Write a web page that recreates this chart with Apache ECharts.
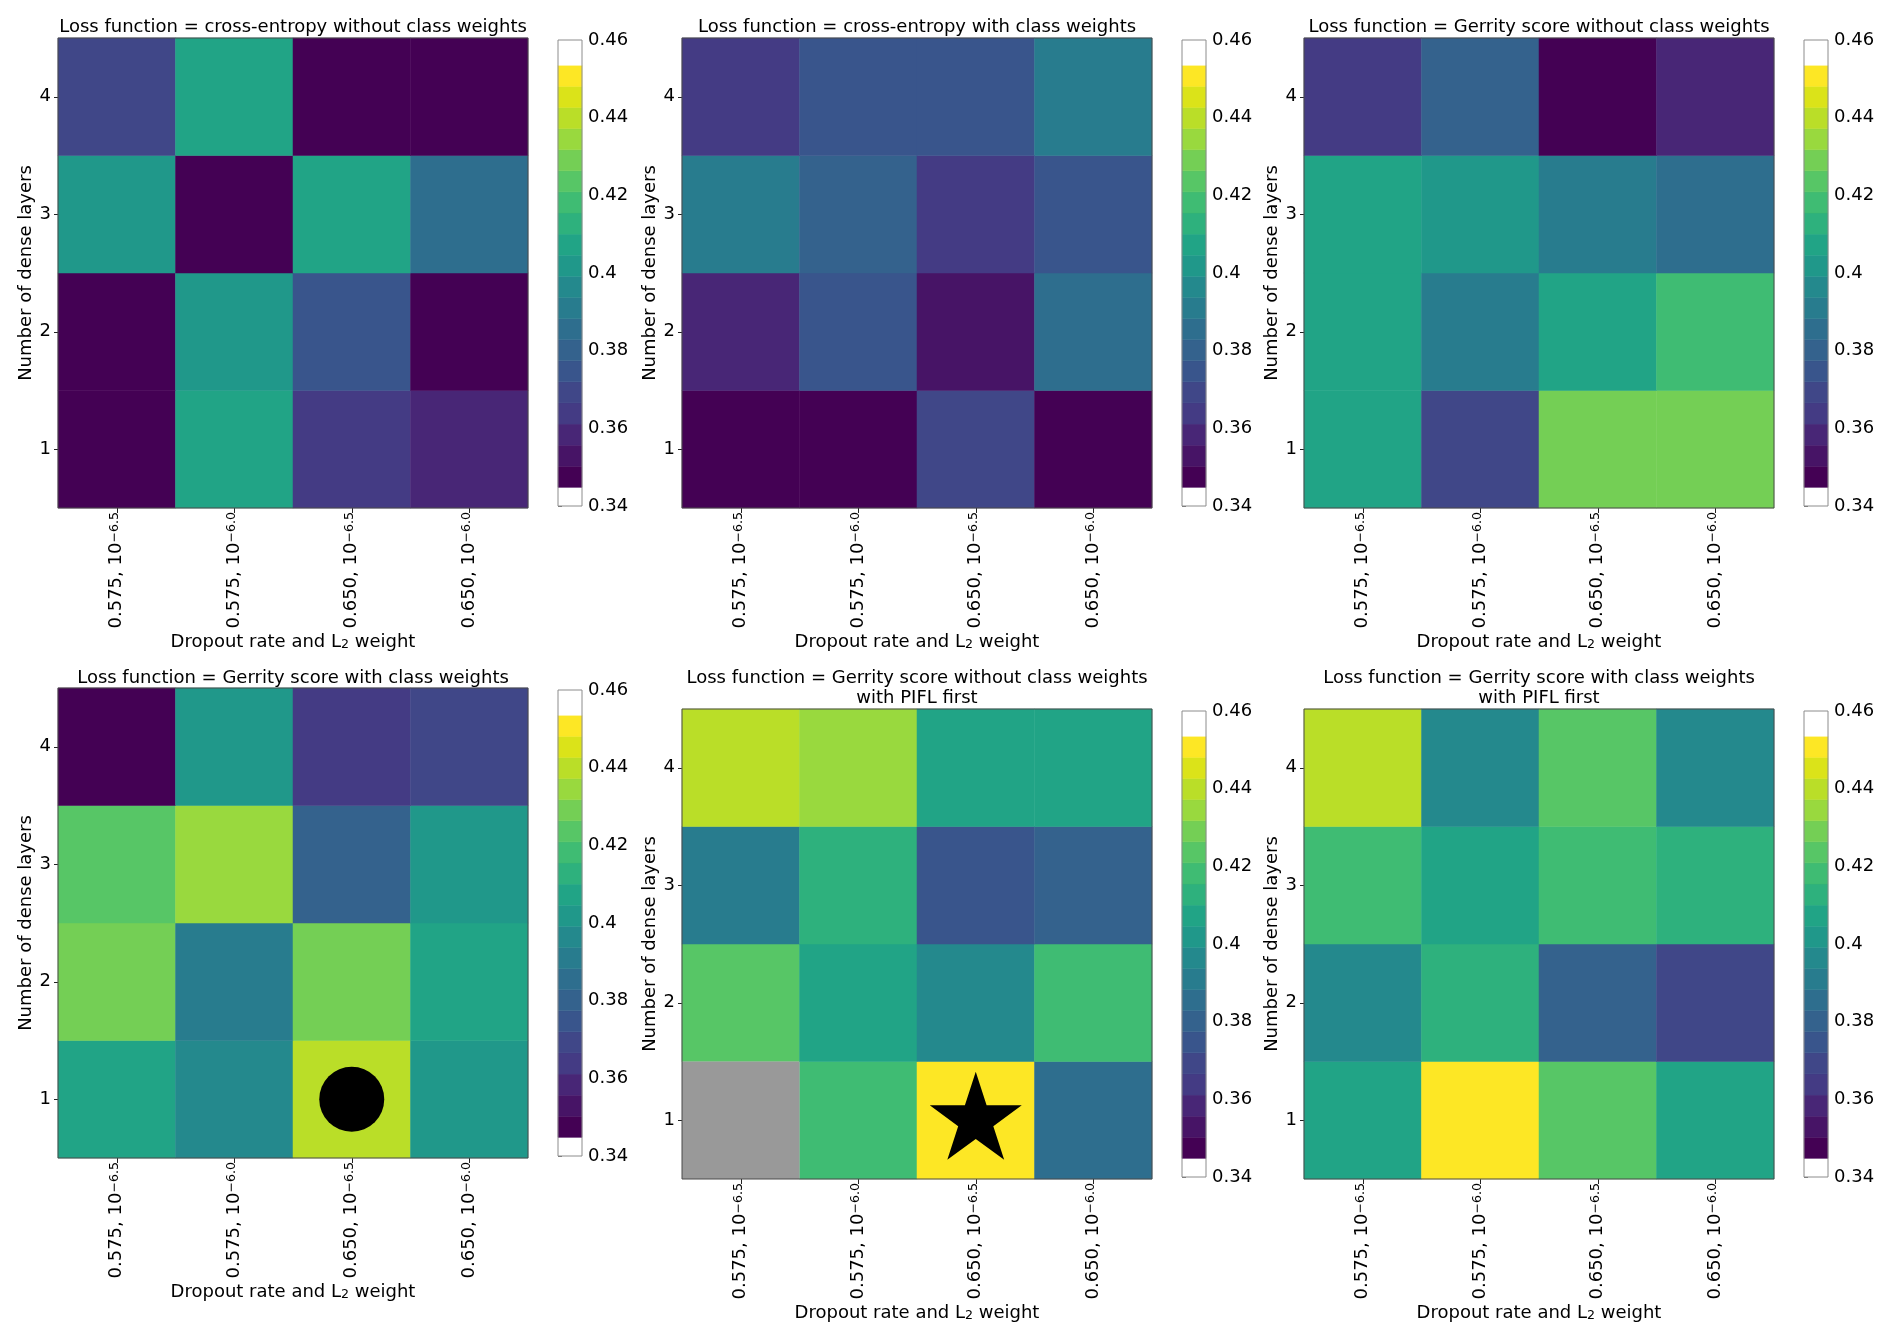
<!DOCTYPE html>
<html>
<head>
<meta charset="utf-8">
<title>Hyperparameter experiment</title>
<script src="https://cdn.jsdelivr.net/npm/echarts@6/dist/echarts.min.js"></script>
<style>
html, body { margin: 0; padding: 0; background: #fff; }
#main { width: 1892px; height: 1342px; }
</style>
</head>
<body>
<div id="main"></div>
<script>
// x categories: dropout rate and exponent of the L2 weight
var dropoutRates = ['0.575', '0.575', '0.650', '0.650'];
var l2Exponents = ['\u22126.5', '\u22126.0', '\u22126.5', '\u22126.0'];
// y categories: number of dense layers (1 at the bottom)
var denseLayers = ['1', '2', '3', '4'];
// colour bar ticks
var cbTicks = [0.34, 0.36, 0.38, 0.40, 0.42, 0.44, 0.46];

var panelTitles = [
	'Loss function = cross-entropy without class weights',
	'Loss function = cross-entropy with class weights',
	'Loss function = Gerrity score without class weights',
	'Loss function = Gerrity score with class weights',
	'Loss function = Gerrity score without class weights\nwith PIFL first',
	'Loss function = Gerrity score with class weights\nwith PIFL first'
];

// scores, one row per number of dense layers (1..4), columns follow the x categories
var ceNoWeights = [
	[0.347, 0.407, 0.362, 0.357],
	[0.346, 0.401, 0.375, 0.348],
	[0.402, 0.345, 0.408, 0.386],
	[0.369, 0.406, 0.347, 0.346]
];
var ceWithWeights = [
	[0.346, 0.347, 0.370, 0.345],
	[0.359, 0.374, 0.354, 0.385],
	[0.392, 0.381, 0.365, 0.376],
	[0.363, 0.375, 0.376, 0.391]
];
var gerrityNoWeights = [
	[0.407, 0.368, 0.430, 0.429],
	[0.406, 0.390, 0.408, 0.418],
	[0.407, 0.401, 0.392, 0.386],
	[0.365, 0.380, 0.346, 0.358]
];
var gerrityWithWeights = [
	[0.407, 0.396, 0.440, 0.401],
	[0.430, 0.391, 0.428, 0.407],
	[0.424, 0.435, 0.380, 0.402],
	[0.346, 0.401, 0.364, 0.369]
];
var piflNoWeights = [
	[null, 0.418, 0.451, 0.386],
	[0.424, 0.407, 0.396, 0.419],
	[0.391, 0.413, 0.374, 0.381],
	[0.440, 0.435, 0.407, 0.406]
];
var piflWithWeights = [
	[0.407, 0.452, 0.423, 0.406],
	[0.396, 0.413, 0.380, 0.369],
	[0.418, 0.407, 0.419, 0.413],
	[0.441, 0.396, 0.424, 0.397]
];
var panelScores = [ceNoWeights, ceWithWeights, gerrityNoWeights, gerrityWithWeights, piflNoWeights, piflWithWeights];

// best models: [column, row]
var circleCell = [2, 0]; // panel 4
var starCell = [2, 0];   // panel 5

// colour scale
var cbMin = 0.34, cbMax = 0.46;
var binLo = 0.3448, binHi = 0.4535, nBins = 20;

var FONT = 'DejaVu Sans';
var TEXT = '#000';

var viridisStops = ['#440154', '#471365', '#482475', '#443983', '#414487', '#3b528b', '#355f8d',
	'#31688e', '#2a788e', '#26828e', '#21918c', '#1f9e89', '#22a884', '#35b779', '#44bf70',
	'#5ec962', '#7ad151', '#9fda3a', '#bddf26', '#dde318', '#fde725'];

function hexRgb(h) {
	return [parseInt(h.substr(1, 2), 16), parseInt(h.substr(3, 2), 16), parseInt(h.substr(5, 2), 16)];
}
function viridis(t) {
	var pos = t * (viridisStops.length - 1);
	var i = Math.min(Math.floor(pos), viridisStops.length - 2);
	var f = pos - i;
	var a = hexRgb(viridisStops[i]), b = hexRgb(viridisStops[i + 1]);
	var c = [];
	for (var k = 0; k < 3; k++) c.push(Math.round(a[k] + (b[k] - a[k]) * f));
	return 'rgb(' + c.join(',') + ')';
}

var binEdges = [], binColors = [];
for (var i = 0; i <= nBins; i++) binEdges.push(binLo + i * (binHi - binLo) / nBins);
for (var i = 0; i < nBins; i++) binColors.push(viridis(i / (nBins - 1)));

var pieces = [];
for (var i = 0; i < nBins; i++) {
	var p = {color: binColors[i]};
	if (i > 0) p.gte = binEdges[i];
	if (i < nBins - 1) p.lt = binEdges[i + 1];
	pieces.push(p);
}

// colour bar segments: under, bins, over
var cbSegments = [[cbMin, binLo]];
var cbFills = ['#ffffff'];
for (var i = 0; i < nBins; i++) {
	cbSegments.push([binEdges[i], binEdges[i + 1]]);
	cbFills.push(binColors[i]);
}
cbSegments.push([binHi, cbMax]);
cbFills.push('#ffffff');

var xCategories = dropoutRates.map(function (d, i) { return d + '|' + l2Exponents[i]; });

// layout
var colLeft = [58, 682, 1304];
var rowTop = [38, 38, 38, 688, 709, 709];
var titleTop = [17, 17, 17, 668, 668, 668];
var SIZE = 470;

var grids = [], xAxes = [], yAxes = [], titles = [], series = [];
var heatmapIdx = [];

for (var p = 0; p < 6; p++) {
	var left = colLeft[p % 3];
	grids.push({left: left, top: rowTop[p], width: SIZE, height: SIZE,
		show: true, z: 10, backgroundColor: 'transparent', borderColor: '#4a4a4a', borderWidth: 1});
	titles.push({
		text: panelTitles[p], left: left + SIZE / 2, top: titleTop[p], textAlign: 'center', padding: 0,
		textStyle: {fontFamily: FONT, fontSize: 18, fontWeight: 'normal', color: TEXT, lineHeight: 20}
	});
	xAxes.push({
		gridIndex: p, type: 'category', data: xCategories, position: 'bottom',
		axisLine: {show: false},
		axisTick: {show: true, alignWithLabel: true, length: 5, lineStyle: {color: '#222'}},
		axisLabel: {
			rotate: 90, margin: 4, fontFamily: FONT, fontSize: 18, color: TEXT,
			formatter: function (v) {
				var parts = v.split('|');
				return parts[0] + ', 10{sup|' + parts[1] + '}';
			},
			rich: {sup: {fontFamily: FONT, fontSize: 12.6, verticalAlign: 'top', color: TEXT}}
		},
		name: 'Dropout rate and L{sub|2} weight', nameLocation: 'middle', nameGap: 125,
		nameTextStyle: {fontFamily: FONT, fontSize: 18, color: TEXT,
			rich: {sub: {fontFamily: FONT, fontSize: 12.6, verticalAlign: 'bottom', color: TEXT}}},
		splitLine: {show: false}
	});
	yAxes.push({
		gridIndex: p, type: 'category', data: denseLayers,
		axisLine: {show: false},
		axisTick: {show: true, alignWithLabel: true, length: 4, lineStyle: {color: '#222'}},
		axisLabel: {margin: 7, fontFamily: FONT, fontSize: 18, color: TEXT},
		name: 'Number of dense layers', nameLocation: 'middle', nameGap: 19,
		nameTextStyle: {fontFamily: FONT, fontSize: 18, color: TEXT},
		splitLine: {show: false}
	});

	var cells = [], missing = [];
	var scores = panelScores[p];
	for (var r = 0; r < scores.length; r++) {
		for (var c = 0; c < scores[r].length; c++) {
			if (scores[r][c] === null) missing.push([c, r]);
			else cells.push([c, r, scores[r][c]]);
		}
	}
	heatmapIdx.push(series.length);
	series.push({type: 'heatmap', xAxisIndex: p, yAxisIndex: p, data: cells, silent: true, progressive: 0});
	if (missing.length) {
		// missing runs are shown in grey
		series.push({
			type: 'custom', xAxisIndex: p, yAxisIndex: p, data: missing, silent: true,
			renderItem: function (params, api) {
				var ctr = api.coord([api.value(0), api.value(1)]);
				var sz = api.size([1, 1]);
				return {type: 'rect', shape: {x: ctr[0] - sz[0] / 2, y: ctr[1] - sz[1] / 2, width: sz[0], height: sz[1]},
					style: {fill: '#999999'}};
			}
		});
	}
}

// best-model markers
series.push({type: 'scatter', xAxisIndex: 3, yAxisIndex: 3, data: [circleCell], symbol: 'circle',
	symbolSize: 65, itemStyle: {color: '#000', opacity: 1}, silent: true, z: 5});
series.push({type: 'scatter', xAxisIndex: 4, yAxisIndex: 4, data: [starCell],
	symbol: 'path://M100,0L122.45,69.1L195.11,69.1L136.33,111.8L158.78,180.9L100,138.2L41.22,180.9L63.67,111.8L4.89,69.1L77.55,69.1Z',
	symbolSize: [92, 88], symbolOffset: [0, -4.5], itemStyle: {color: '#000', opacity: 1}, silent: true, z: 5});

// colour bars
function renderColorbar(params, api) {
	var lo = api.coord([0, api.value(0)]);
	var hi = api.coord([1, api.value(1)]);
	var fill = cbFills[params.dataIndex];
	return {type: 'rect', shape: {x: lo[0], y: hi[1], width: hi[0] - lo[0], height: lo[1] - hi[1]},
		style: {fill: fill, stroke: fill, lineWidth: 0.5}};
}
for (var p = 0; p < 6; p++) {
	var g = grids.length;
	grids.push({left: colLeft[p % 3] + 500, top: rowTop[p] + 2, width: 24, height: SIZE - 4,
		show: true, z: 10, backgroundColor: 'transparent', borderColor: '#8c8c8c', borderWidth: 1});
	xAxes.push({gridIndex: g, type: 'value', min: 0, max: 1, show: false});
	yAxes.push({
		gridIndex: g, type: 'value', position: 'right', min: cbTicks[0], max: cbTicks[cbTicks.length - 1], interval: 0.02,
		axisLine: {show: false},
		axisTick: {show: true, length: 4, lineStyle: {color: '#444'}},
		axisLabel: {margin: 6, fontFamily: FONT, fontSize: 18, color: TEXT},
		splitLine: {show: false}
	});
	series.push({type: 'custom', xAxisIndex: g, yAxisIndex: g, data: cbSegments, silent: true,
		renderItem: renderColorbar});
}

var chart = echarts.init(document.getElementById('main'), null, {renderer: 'canvas'});
chart.setOption({
	backgroundColor: '#ffffff',
	animation: false,
	textStyle: {fontFamily: FONT},
	title: titles,
	grid: grids,
	xAxis: xAxes,
	yAxis: yAxes,
	visualMap: [{
		type: 'piecewise', show: false, seriesIndex: heatmapIdx, pieces: pieces, dimension: 2
	}],
	series: series
});
</script>
</body>
</html>
